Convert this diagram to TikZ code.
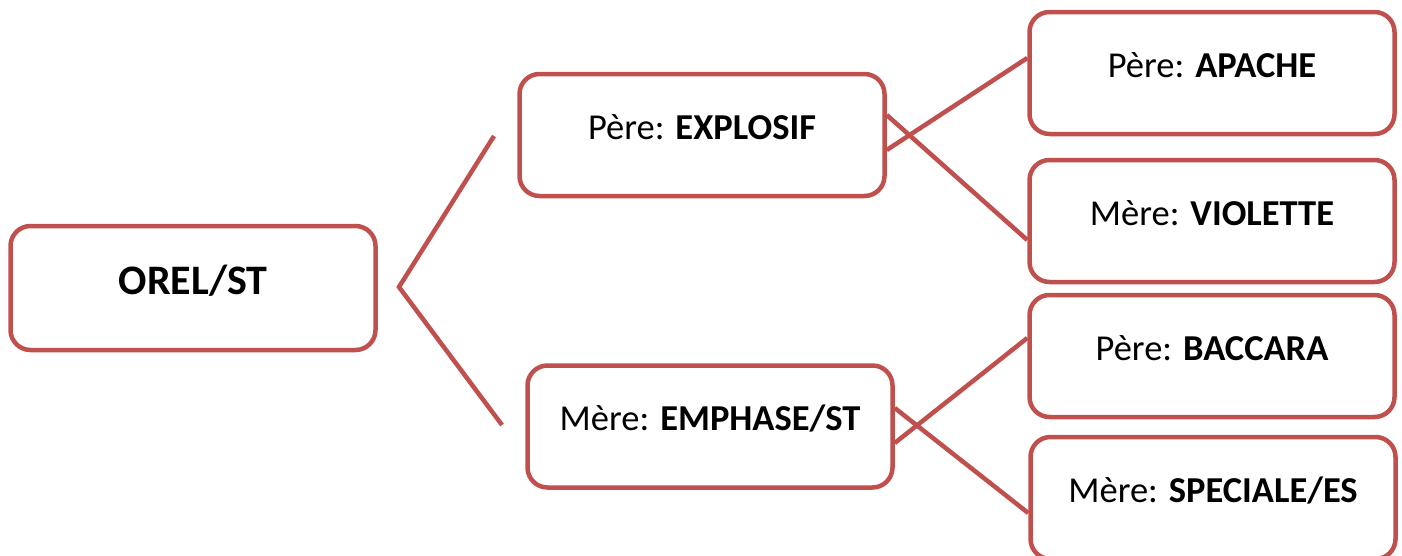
\documentclass[tikz,border=0pt]{standalone}
\usepackage{fontspec}
\setmainfont{Carlito}
\definecolor{boxred}{HTML}{C0504D}
\begin{document}
\begin{tikzpicture}[x=1pt,y=-1pt,
  box/.style={draw=boxred, line width=4.5pt, rounded corners=20pt, fill=white,
    minimum width=365pt, minimum height=122pt, inner sep=0pt, align=center,
    font=\fontsize{36.5}{42}\selectfont, text height=25pt, text depth=17pt},
  bigbox/.style={box, font=\fontsize{42}{48}\selectfont, text height=30pt, text depth=17pt, minimum height=124pt},
  link/.style={draw=boxred, line width=4.5pt}]
\useasboundingbox (0,0) rectangle (1402,555);
\node[bigbox] (orel) at (193,288) {\textbf{OREL/ST}};
\node[box] (explosif) at (702,135) {Père: \textbf{EXPLOSIF}};
\node[box] (emphase) at (710,426.5) {Mère: \textbf{EMPHASE/ST}};
\node[box] (apache) at (1212,73) {Père: \textbf{APACHE}};
\node[box] (violette) at (1212,221) {Mère: \textbf{VIOLETTE}};
\node[box] (baccara) at (1212,356) {Père: \textbf{BACCARA}};
\node[box] (speciale) at (1213,498) {Mère: \textbf{SPECIALE/ES}};
\coordinate (vertex) at (399,287);
\coordinate (topend) at (494,136);
\coordinate (botend) at (502,425);
\draw[link] (topend) -- (vertex) -- (botend);
\draw[link] ([yshift=-15pt]explosif.east) -- ([yshift=15pt]apache.west);
\draw[link] ([yshift=20pt]explosif.east) -- ([yshift=-19pt]violette.west);
\draw[link] ([yshift=-16.5pt]emphase.east) -- ([yshift=18pt]baccara.west);
\draw[link] ([yshift=18.5pt]emphase.east) -- ([yshift=-15pt]speciale.west);
\end{tikzpicture}
\end{document}
